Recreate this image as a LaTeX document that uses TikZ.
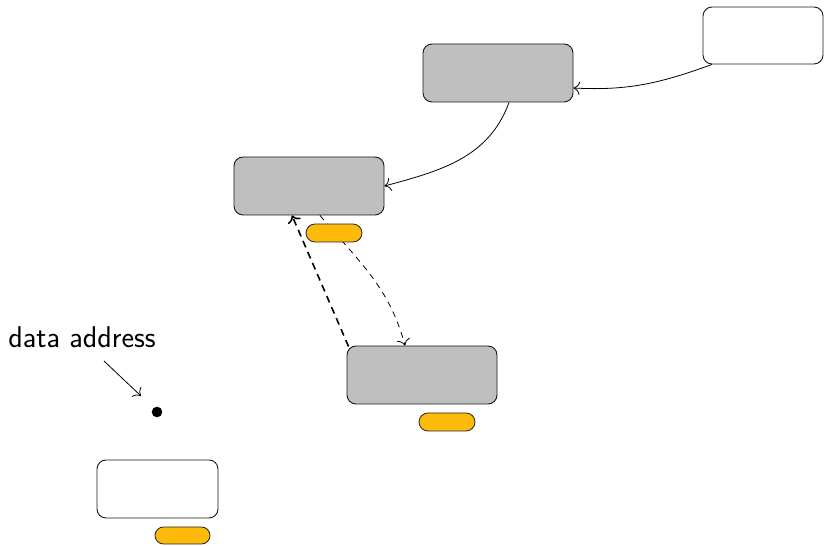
\documentclass[tikz,border=0pt]{standalone}
\usetikzlibrary{calc,shapes.misc,arrows.meta}
\definecolor{boxgray}{RGB}{191,191,191}
\definecolor{pillor}{RGB}{252,186,10}
\begin{document}
\begin{tikzpicture}[x=1pt,y=1pt,
  >={To[scale=1.9]},
  box/.style={draw=black!90,line width=0.9pt,rounded corners=9pt,minimum width=150pt,minimum height=58pt,inner sep=0pt},
  graybox/.style={box,fill=boxgray},
  whitebox/.style={box,fill=white},
  pill/.style={draw=black!85,line width=0.8pt,fill=pillor,rounded rectangle,minimum width=56pt,minimum height=18pt,inner sep=0pt},
  conn/.style={line width=0.8pt,->},
  thindash/.style={conn,dash pattern=on 6pt off 5pt},
  thickdash/.style={line width=1.6pt,-{To[scale=1.3]},dash pattern=on 7pt off 5pt}
]
\useasboundingbox (0,0) rectangle (825,546);
% boxes
\node[whitebox,minimum width=120pt,minimum height=57pt] (tr) at (763,510.5) {};
\node[graybox] (a) at (498,473) {};
\node[graybox] (b) at (309,360) {};
\node[graybox] (c) at (422,171) {};
\node[whitebox,minimum width=121pt] (d) at (157.5,57) {};
% connectors
\draw[conn] ($(tr.south)+(-51,0)$) to[out=200,in=-3] ($(a.east)+(0,-15)$);
\draw[conn] ($(a.south)+(11,0)$) to[out=250,in=15] (b.east);
\draw[thickdash] ($(c.north west)+(2,-1)$) -- ($(b.south)+(-17,0)$);
\draw[thindash] ($(b.south)+(11,0)$) to[out=-50,in=105] ($(c.north)+(-17,0)$);
% pills
\node[pill] (pb) at (334,313) {};
\node[pill] (pc) at (447,124) {};
\node[pill,minimum width=55pt,minimum height=17pt] (pd) at (182.5,10.5) {};
% dot and label
\fill (157,134) circle (5.3pt) coordinate (dot);
\node[font=\sffamily\fontsize{30}{36}\selectfont,inner sep=0pt,anchor=base] (lbl) at (82,198) {data address};
\coordinate (ls) at (104,185);
\coordinate (le) at (141,150);
\draw[conn] (ls) -- (le);
\end{tikzpicture}
\end{document}
